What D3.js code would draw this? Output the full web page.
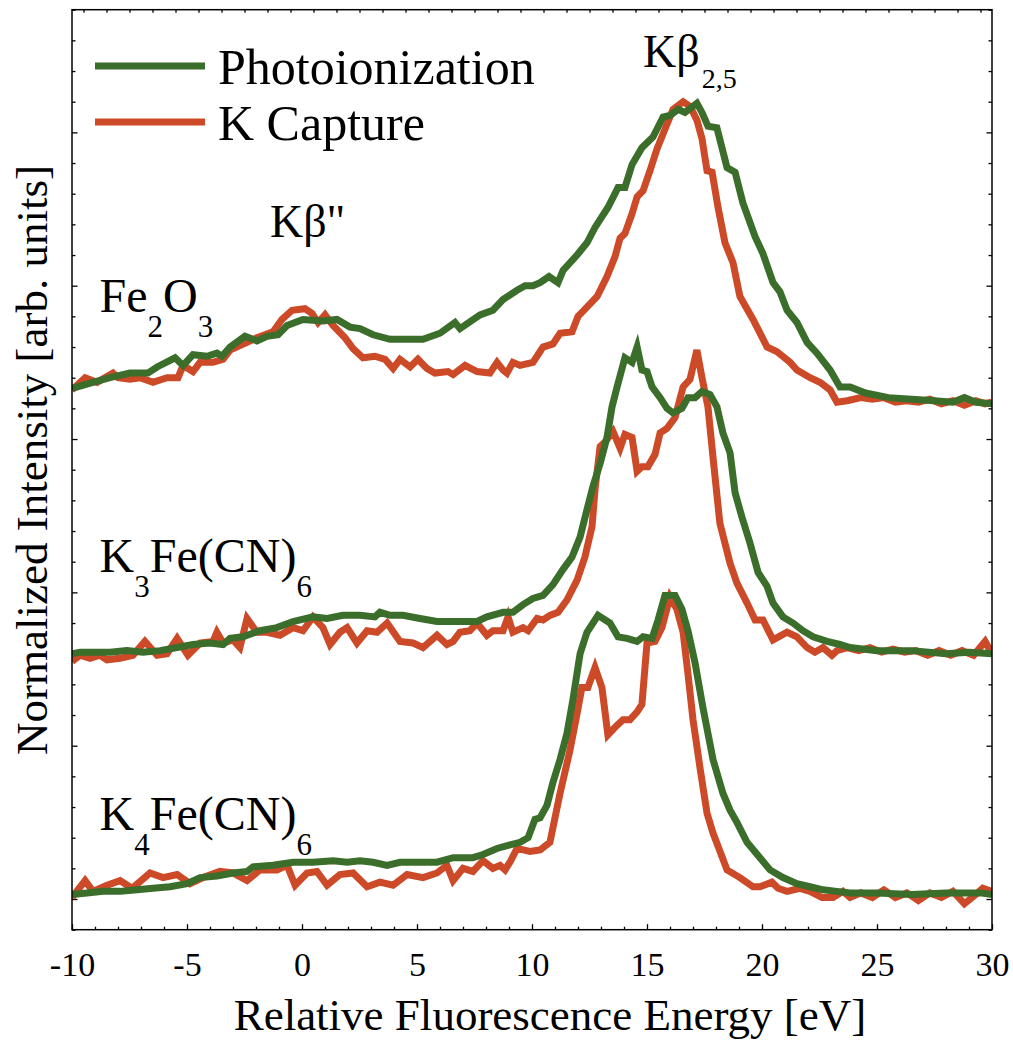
<!DOCTYPE html>
<html><head><meta charset="utf-8">
<script src="https://cdn.jsdelivr.net/npm/d3@7"></script>
<style>
body{margin:0;background:#fff}
svg{display:block}
text{font-family:"Liberation Serif","Times New Roman",serif;fill:#000}
</style>
</head><body>
<svg id="chart" width="1013" height="1041"></svg>
<script>
// ---- Data: [relative energy (eV), normalized intensity incl. vertical offset] ----
const fe2o3Photo = [[-10,3.33],[-9.09,3.37],[-8.35,3.40],[-7.48,3.43],[-6.7,3.43],[-6.3,3.47],[-5.52,3.53],[-5.17,3.48],[-4.74,3.55],[-4.13,3.54],[-3.7,3.56],[-3.48,3.54],[-3.13,3.60],[-2.48,3.67],[-1.96,3.64],[-1.52,3.67],[-1.04,3.68],[-0.65,3.74],[0.04,3.78],[0.91,3.77],[1.52,3.78],[2.09,3.73],[2.52,3.72],[3.09,3.68],[3.83,3.65],[4.7,3.65],[5.26,3.65],[6,3.69],[6.65,3.76],[6.87,3.72],[7.74,3.81],[8.3,3.84],[8.74,3.91],[9.35,3.97],[9.7,4.00],[10.04,4.00],[10.35,4.02],[10.74,4.06],[11.13,4.02],[11.35,4.10],[11.96,4.20],[12.39,4.28],[12.74,4.38],[13.3,4.51],[13.74,4.64],[14.04,4.64],[14.35,4.79],[14.78,4.90],[15.26,4.97],[15.7,5.10],[16,5.11],[16.35,5.15],[16.65,5.13],[17.17,5.19],[17.39,5.13],[17.65,5.04],[18.04,5.03],[18.48,4.77],[18.83,4.74],[19.17,4.54],[19.7,4.32],[20.04,4.21],[20.48,4.02],[20.78,3.96],[21.09,3.84],[21.52,3.76],[21.96,3.63],[22.39,3.56],[22.96,3.45],[23.39,3.34],[23.83,3.34],[24.5,3.30],[25.5,3.27],[26.5,3.26],[27.5,3.25],[28.3,3.24],[28.8,3.27],[29.3,3.24],[30,3.23]];
const fe2o3Capture = [[-10,3.32],[-9.43,3.40],[-8.91,3.37],[-8.22,3.43],[-8,3.40],[-7.48,3.39],[-7.04,3.40],[-6.48,3.37],[-5.87,3.40],[-5.39,3.40],[-5.17,3.48],[-4.74,3.44],[-4.43,3.50],[-3.87,3.50],[-3.43,3.52],[-3.13,3.58],[-2.39,3.63],[-1.96,3.66],[-1.26,3.70],[-0.87,3.78],[-0.43,3.84],[0.13,3.85],[0.43,3.82],[0.7,3.76],[1,3.81],[1.35,3.74],[1.87,3.66],[2.22,3.59],[2.65,3.53],[3.17,3.54],[3.61,3.52],[3.96,3.46],[4.26,3.52],[4.7,3.47],[5.04,3.52],[5.43,3.46],[5.78,3.43],[6.35,3.44],[6.57,3.42],[7.09,3.48],[7.61,3.44],[8.17,3.43],[8.48,3.50],[8.74,3.45],[8.91,3.43],[9.17,3.50],[9.48,3.48],[10.04,3.50],[10.48,3.60],[10.91,3.62],[11.22,3.69],[11.74,3.70],[12,3.80],[12.39,3.86],[12.83,3.93],[13.26,4.06],[13.61,4.19],[13.83,4.31],[14.04,4.34],[14.35,4.47],[14.57,4.58],[14.83,4.62],[15.13,4.75],[15.43,4.89],[15.78,5.02],[16.13,5.15],[16.57,5.20],[16.87,5.17],[17.17,5.08],[17.39,4.96],[17.61,4.75],[17.83,4.74],[18.09,4.51],[18.39,4.28],[18.74,4.15],[19.04,3.93],[19.61,3.78],[20.22,3.60],[20.65,3.57],[21.22,3.50],[21.52,3.45],[22.09,3.40],[22.52,3.37],[22.96,3.32],[23.26,3.24],[23.7,3.25],[24.3,3.27],[24.8,3.26],[25.3,3.27],[25.8,3.24],[26.3,3.25],[26.8,3.24],[27.3,3.26],[27.8,3.23],[28.3,3.25],[28.8,3.22],[29.3,3.25],[29.7,3.23],[30,3.24]];
const k3Photo = [[-10,1.60],[-9.65,1.61],[-9.09,1.61],[-8.35,1.61],[-7.61,1.62],[-6.91,1.61],[-6.17,1.62],[-5.43,1.64],[-4.74,1.66],[-4,1.67],[-3.43,1.66],[-3.13,1.70],[-2.57,1.71],[-1.83,1.75],[-1.09,1.77],[-0.39,1.81],[0.48,1.84],[1.09,1.83],[1.78,1.85],[2.52,1.85],[3.17,1.84],[3.39,1.87],[3.83,1.85],[4.39,1.85],[5.13,1.83],[5.87,1.81],[6.87,1.81],[7.61,1.81],[8.04,1.84],[8.74,1.87],[9.17,1.87],[9.61,1.92],[10.04,1.96],[10.48,1.98],[10.91,2.05],[11.35,2.15],[11.74,2.23],[12.09,2.36],[12.39,2.54],[12.65,2.69],[12.96,2.84],[13.26,3.01],[13.48,3.21],[13.7,3.34],[14.04,3.53],[14.35,3.50],[14.57,3.60],[14.78,3.45],[15,3.44],[15.22,3.34],[15.57,3.27],[15.87,3.20],[16.13,3.17],[16.52,3.20],[16.78,3.27],[17.09,3.27],[17.39,3.31],[17.74,3.29],[18.04,3.21],[18.3,3.04],[18.61,2.91],[18.83,2.65],[19.13,2.49],[19.48,2.32],[19.83,2.13],[20.22,2.04],[20.48,1.93],[20.91,1.84],[21.35,1.80],[21.78,1.75],[22.22,1.71],[22.83,1.68],[23.39,1.66],[23.83,1.64],[25,1.62],[26.5,1.62],[28,1.60],[29,1.61],[30,1.60]];
const k3Capture = [[-10,1.55],[-9.65,1.59],[-9.22,1.57],[-8.78,1.59],[-8.48,1.56],[-7.91,1.57],[-7.35,1.59],[-6.83,1.68],[-6.3,1.59],[-5.87,1.60],[-5.43,1.70],[-4.96,1.59],[-4.43,1.67],[-3.87,1.68],[-3.7,1.74],[-3.43,1.67],[-3,1.69],[-2.7,1.64],[-2.39,1.83],[-1.96,1.74],[-1.52,1.74],[-0.96,1.72],[-0.39,1.77],[0.04,1.75],[0.48,1.84],[0.91,1.77],[1.22,1.66],[1.65,1.74],[1.96,1.77],[2.39,1.67],[2.83,1.75],[3.26,1.74],[3.7,1.80],[4.26,1.68],[4.83,1.67],[5.26,1.64],[5.87,1.72],[6.3,1.66],[6.57,1.68],[6.87,1.74],[7.3,1.75],[7.61,1.80],[8.04,1.72],[8.3,1.75],[8.74,1.75],[8.96,1.84],[9.17,1.74],[9.61,1.77],[9.83,1.75],[10.22,1.83],[10.48,1.82],[10.78,1.85],[11.13,1.87],[11.52,1.95],[11.96,2.08],[12.3,2.23],[12.61,2.43],[12.74,2.67],[12.96,2.95],[13.17,2.98],[13.52,3.05],[13.83,2.94],[14.04,3.03],[14.35,3.01],[14.57,2.79],[14.78,2.82],[15.04,2.82],[15.35,2.90],[15.57,3.04],[15.87,3.07],[16.22,3.14],[16.57,3.34],[16.87,3.39],[17.17,3.58],[17.39,3.40],[17.65,3.21],[17.87,2.88],[18.17,2.45],[18.61,2.19],[18.91,2.06],[19.35,1.93],[19.7,1.82],[20.04,1.82],[20.48,1.69],[21.09,1.74],[21.52,1.71],[21.96,1.64],[22.3,1.61],[22.65,1.64],[23.04,1.59],[23.26,1.62],[23.7,1.64],[24.2,1.62],[24.7,1.64],[25.2,1.61],[25.7,1.63],[26.2,1.61],[26.7,1.62],[27.2,1.59],[27.7,1.62],[28.2,1.59],[28.7,1.62],[29.2,1.59],[29.7,1.68],[30,1.60]];
const k4Photo = [[-10,0.03],[-9.35,0.04],[-8.65,0.05],[-7.91,0.05],[-7.17,0.06],[-6.48,0.07],[-5.74,0.08],[-5,0.10],[-4.43,0.14],[-3.7,0.15],[-3,0.17],[-2.39,0.18],[-2.13,0.21],[-1.26,0.22],[-0.39,0.24],[0.48,0.24],[1.35,0.25],[1.96,0.24],[2.52,0.25],[3.09,0.24],[3.7,0.22],[4.26,0.24],[5.13,0.24],[5.87,0.24],[6.57,0.27],[7.43,0.27],[7.87,0.29],[8.48,0.33],[8.96,0.35],[9.48,0.37],[9.83,0.40],[10.13,0.52],[10.35,0.53],[10.65,0.61],[10.91,0.76],[11.22,0.91],[11.52,1.08],[11.78,1.30],[12.09,1.60],[12.39,1.74],[12.87,1.85],[13.39,1.80],[13.74,1.71],[14.13,1.70],[14.57,1.68],[14.83,1.71],[15.22,1.70],[15.48,1.82],[15.78,1.98],[16.22,1.98],[16.52,1.89],[16.78,1.75],[17.09,1.54],[17.43,1.25],[17.87,0.91],[18.3,0.69],[18.61,0.58],[18.91,0.50],[19.35,0.37],[19.91,0.27],[20.35,0.19],[20.91,0.14],[21.52,0.10],[22.09,0.08],[22.65,0.06],[23.26,0.05],[23.83,0.04],[25,0.04],[26.5,0.03],[28,0.04],[29.5,0.04],[30,0.03]];
const k4Capture = [[-10,0.01],[-9.43,0.12],[-9.09,0.05],[-8.48,0.09],[-7.91,0.12],[-7.39,0.07],[-6.61,0.17],[-6.04,0.14],[-5.43,0.16],[-4.87,0.10],[-4.3,0.14],[-3.57,0.18],[-3,0.17],[-2.39,0.12],[-1.83,0.19],[-1.09,0.19],[-0.65,0.22],[-0.3,0.09],[0.22,0.17],[0.65,0.18],[1.09,0.09],[1.65,0.16],[2.22,0.17],[2.83,0.08],[3.39,0.11],[3.96,0.09],[4.57,0.16],[5.26,0.14],[5.87,0.17],[6.3,0.22],[6.57,0.12],[7,0.20],[7.43,0.18],[7.87,0.25],[8.3,0.20],[8.61,0.22],[8.83,0.19],[9.04,0.24],[9.35,0.33],[9.91,0.31],[10.35,0.32],[10.78,0.37],[11.22,0.69],[11.65,0.97],[11.96,1.21],[12.17,1.38],[12.43,1.38],[12.74,1.51],[13.04,1.38],[13.3,1.07],[13.61,1.12],[13.96,1.17],[14.26,1.17],[14.57,1.22],[14.78,1.27],[15,1.67],[15.35,1.68],[15.65,1.77],[16,1.97],[16.3,1.89],[16.57,1.74],[16.78,1.47],[17,1.17],[17.3,0.86],[17.61,0.56],[17.87,0.43],[18.48,0.19],[19.04,0.14],[19.61,0.08],[19.91,0.08],[20.43,0.11],[20.7,0.07],[21.09,0.05],[21.65,0.07],[22.09,0.05],[22.61,0.01],[23.09,0.01],[23.52,0.05],[23.83,0.01],[24.3,0.04],[24.8,0.01],[25.3,0.06],[25.8,0.01],[26.3,0.04],[26.8,-0.01],[27.3,0.04],[27.8,0.01],[28.3,0.05],[28.8,-0.03],[29.3,0.03],[29.6,0.07],[30,0.05]];

const xMajorTicks = [-10,-5,0,5,10,15,20,25,30];
const yMajorTicks = [0,1,2,3,4,5];
const seriesNames = ["Photoionization","K Capture"];
const seriesColors = ["#3b6e2b","#cc4a27"];
const compoundLabels = [
  {parts:[["Fe",0],["2",1],["O",0],["3",1]], x:-8.8, y:3.83},
  {parts:[["K",0],["3",1],["Fe(CN)",0],["6",1]], x:-8.8, y:2.13},
  {parts:[["K",0],["4",1],["Fe(CN)",0],["6",1]], x:-8.8, y:0.45}
];

// ---- Layout ----
const svg = d3.select("#chart");
const L=72, R=992, T=9.7, B=929.7;
const x = d3.scaleLinear().domain([-10,30]).range([L,R]);
const y = d3.scaleLinear().domain([-0.2,5.8]).range([B,T]);

const axisStyle = g => { g.select(".domain").remove(); g.selectAll("line").attr("stroke","#000").attr("stroke-width",1.3); };
const xMinor = d3.range(-10,30.01,1).filter(v=>v%5!==0);
const yMinor = d3.range(-0.2,5.81,0.2).map(v=>+v.toFixed(2)).filter(v=>Math.abs(v-Math.round(v))>1e-6);

// bottom
svg.append("g").attr("transform",`translate(0,${B})`)
  .call(d3.axisBottom(x).tickValues(xMajorTicks).tickSize(-5.5).tickFormat(d=>String(d)))
  .call(axisStyle)
  .call(g=>g.selectAll("text").attr("y",46).attr("dy",0).attr("font-size",34)
        .attr("font-family","Liberation Serif, Times New Roman, serif").attr("fill","#000"));
svg.append("g").attr("transform",`translate(0,${B})`)
  .call(d3.axisBottom(x).tickValues(xMinor).tickSize(-3).tickFormat(""))
  .call(axisStyle);
// top
svg.append("g").attr("transform",`translate(0,${T})`)
  .call(d3.axisTop(x).tickValues(d3.range(-9.5,30,1)).tickSize(-3).tickFormat(""))
  .call(axisStyle);
// left & right
[[d3.axisLeft, L],[d3.axisRight, R]].forEach(([ax,pos])=>{
  svg.append("g").attr("transform",`translate(${pos},0)`)
    .call(ax(y).tickValues(yMajorTicks).tickSize(-5.5).tickFormat(""))
    .call(axisStyle);
  svg.append("g").attr("transform",`translate(${pos},0)`)
    .call(ax(y).tickValues(yMinor).tickSize(-3.5).tickFormat(""))
    .call(axisStyle);
});

// clip
svg.append("clipPath").attr("id","plotclip").append("rect")
  .attr("x",L).attr("y",T).attr("width",R-L).attr("height",B-T);

const line = d3.line().x(d=>x(d[0])).y(d=>y(d[1]));
const plot = svg.append("g").attr("clip-path","url(#plotclip)");
const captureSeries = [fe2o3Capture,k3Capture,k4Capture];
const photoSeries = [fe2o3Photo,k3Photo,k4Photo];
captureSeries.forEach(s=>plot.append("path").datum(s).attr("d",line)
  .attr("fill","none").attr("stroke",seriesColors[1]).attr("stroke-width",7));
photoSeries.forEach(s=>plot.append("path").datum(s).attr("d",line)
  .attr("fill","none").attr("stroke",seriesColors[0]).attr("stroke-width",7));

// frame
svg.append("rect").attr("x",L).attr("y",T).attr("width",R-L).attr("height",B-T)
  .attr("fill","none").attr("stroke","#000").attr("stroke-width",1.5);

// legend
seriesNames.forEach((name,i)=>{
  const ly = 66 + i*56;
  svg.append("line").attr("x1",95).attr("x2",205).attr("y1",ly).attr("y2",ly)
    .attr("stroke",seriesColors[i]).attr("stroke-width",7);
  svg.append("text").attr("x",218).attr("y",ly+18).attr("font-size",50).text(name);
});

// peak labels
const kb25 = svg.append("text").attr("x",643).attr("y",67).attr("font-size",46);
kb25.append("tspan").text("Kβ");
kb25.append("tspan").attr("font-size",28).attr("dy",21).attr("dx",2).text("2,5");
svg.append("text").attr("x",270).attr("y",237).attr("font-size",46).text("Kβ\"");

// compound labels
compoundLabels.forEach(c=>{
  const t = svg.append("text").attr("x",x(c.x)).attr("y",y(c.y)).attr("font-size",48);
  let sub=false;
  c.parts.forEach(([s,isSub])=>{
    const ts = t.append("tspan").text(s);
    if(isSub && !sub){ ts.attr("font-size",31).attr("dy",25); sub=true; }
    else if(!isSub && sub){ ts.attr("dy",-25); sub=false; }
    else if(isSub){ ts.attr("font-size",31); }
  });
});

// axis titles
svg.append("text").attr("x",550).attr("y",1030).attr("text-anchor","middle")
  .attr("font-size",45).text("Relative Fluorescence Energy [eV]");
svg.append("text").attr("transform","translate(47,460) rotate(-90)").attr("text-anchor","middle")
  .attr("font-size",45).text("Normalized Intensity [arb. units]");
</script>
</body></html>
